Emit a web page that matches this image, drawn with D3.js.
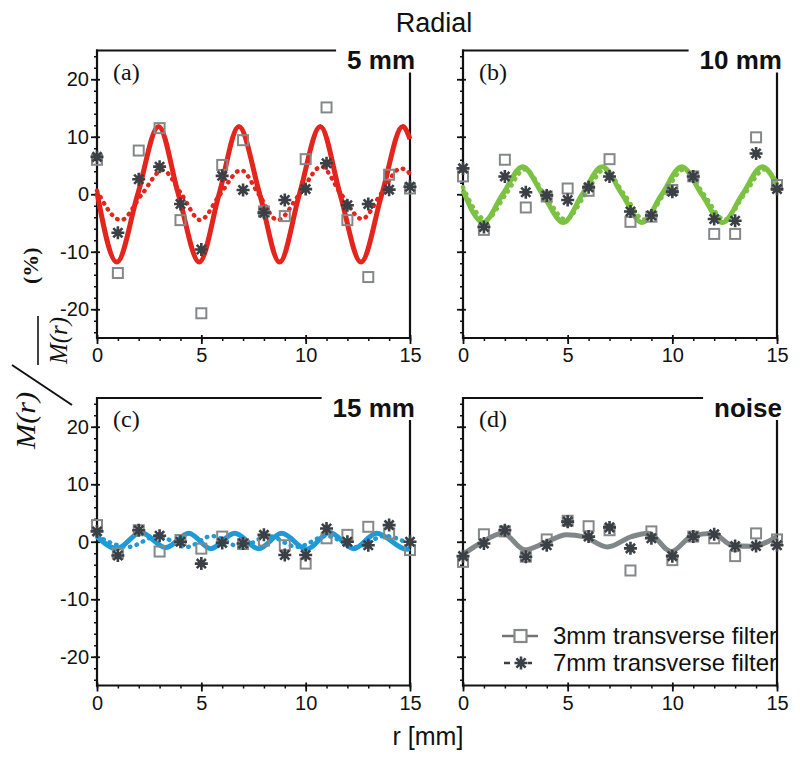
<!DOCTYPE html>
<html><head><meta charset="utf-8">
<script src="https://cdn.jsdelivr.net/npm/d3@7"></script>
<style>
body{margin:0;background:#fff;}
svg{display:block;font-family:"Liberation Sans",Arial,Helvetica,sans-serif;}
</style>
</head><body>
<svg id="chart" width="800" height="761"></svg>
<script>
// ---------------- DATA ----------------
const rValues = d3.range(0, 16);            // sample positions 0..15 mm
const xTickValues = [0, 5, 10, 15];
const yTickValues = [20, 10, 0, -10, -20];
const panelLetters = ["(a)", "(b)", "(c)", "(d)"];
const panelTitles = ["5 mm", "10 mm", "15 mm", "noise"];
const legendLabels = ["3mm transverse filter", "7mm transverse filter"];

// 3mm transverse filter (squares) and 7mm transverse filter (asterisks)
const squaresA = [6.0, -13.7, 7.6, 11.5, -4.5, -20.7, 5.1, 9.4, -3.0, -3.8, 6.1, 15.1, -4.5, -14.4, 3.4, 1.0];
const starsA   = [6.5, -6.7, 2.6, 4.8, -1.7, -9.6, 3.2, 0.75, -3.2, -1.0, 0.9, 5.4, -1.9, -1.7, 0.8, 1.3];
const squaresB = [3.1, -6.2, 6.0, -2.3, -0.4, 1.0, 0.6, 6.1, -4.8, -3.9, 0.75, 3.1, -6.9, -6.9, 9.9, 1.6];
const starsB   = [4.5, -5.7, 3.1, 0.35, -0.2, -1.0, 1.2, 3.1, -3.0, -3.7, 0.45, 3.1, -4.3, -4.6, 7.1, 0.9];
const squaresC = [2.9, -2.0, 2.0, -1.7, 0.3, -1.2, 0.9, -0.4, 0.2, -0.6, -3.8, 0.6, 1.2, 2.6, 1.45, -1.45];
const starsC   = [1.8, -2.4, 2.0, 1.05, 0.0, -3.8, -0.2, -0.3, 1.2, -2.3, -2.3, 2.3, 0.0, -0.6, 2.9, 0.0];
const squaresD = [-3.5, 1.3, 1.8, -2.6, 0.4, 3.65, 2.7, 2.0, -5.0, 1.8, -3.2, 0.9, 0.6, -2.5, 1.45, 0.4];
const starsD   = [-2.5, -0.3, 2.0, -2.6, -0.6, 3.5, 0.9, 2.5, -1.15, 0.6, -2.5, 0.9, 1.3, -0.75, -0.75, -0.6];

// fitted curves, read at extrema / zero crossings: [r, value]
const solidA = [[0,0.3],[0.95,-11.8],[1.95,0],[2.95,11.8],[3.9,0],[4.9,-11.8],[5.85,0],[6.8,11.8],[7.8,0],[8.75,-11.8],[9.7,0],[10.7,11.8],[11.65,0],[12.65,-11.8],[13.65,0],[14.65,11.8],[15,9.6]];
const dottedA = [[0,0.6],[1.15,-4.5],[2.15,0],[3.15,4.2],[4.05,0],[4.95,-4.5],[5.9,0],[6.9,4.2],[7.75,0],[8.65,-4.5],[9.7,0],[10.75,4.8],[11.7,0],[12.7,-4.3],[13.6,0],[14.55,4.5],[15,3.6]];
const solidB = [[0,0.7],[0.96,-4.9],[1.9,0],[2.85,4.8],[3.8,0],[4.8,-4.9],[5.7,0],[6.65,4.8],[7.6,0],[8.55,-4.9],[9.5,0],[10.45,4.8],[11.4,0],[12.4,-4.9],[13.35,0],[14.3,4.8],[15,1.6]];
const dottedB = [[0,1.2],[1.1,-4.4],[2.05,0],[2.95,4.3],[3.9,0],[4.9,-4.4],[5.85,0],[6.75,4.3],[7.7,0],[8.65,-4.4],[9.6,0],[10.55,4.3],[11.5,0],[12.5,-4.4],[13.45,0],[14.4,4.3],[15,2.0]];
const solidC = [[0,0.9],[0.95,-1.2],[2.1,1.6],[3.3,-1.0],[4.4,1.5],[5.45,-1.2],[6.6,1.5],[7.75,-1.2],[8.85,1.5],[10.05,-1.3],[11.15,1.6],[12.3,-1.2],[13.4,1.5],[14.85,-1.3],[15,-1.2]];
const dottedC = [[0,1.0],[1.5,-0.9],[2.9,1.0],[4.3,-0.9],[5.5,1.0],[6.9,-0.9],[8.2,1.0],[9.6,-0.9],[11.0,1.0],[12.4,-0.9],[13.8,1.0],[15,-0.5]];
const solidD = [[0,-2.2],[0.8,-0.3],[1.9,1.5],[2.95,-1.4],[3.85,-0.3],[4.95,1.2],[5.75,0.9],[6.9,-0.9],[8.05,0.9],[8.85,1.5],[9.95,-1.7],[10.9,0.9],[11.9,1.5],[12.85,-0.6],[13.8,-0.8],[15,0.9]];

// ---------------- LAYOUT ----------------
const svg = d3.select("#chart");
svg.append("rect").attr("width", 800).attr("height", 761).attr("fill", "#fff");

const panels = [
  {letter: panelLetters[0], title: panelTitles[0], color: "#e3251d", x0: 97,  x1: 410, y0: 50.5, y1: 338,   solid: solidA, dotted: dottedA, sq: squaresA, st: starsA, yLab: true},
  {letter: panelLetters[1], title: panelTitles[1], color: "#7cc242", x0: 463, x1: 777, y0: 50.5, y1: 338,   solid: solidB, dotted: dottedB, sq: squaresB, st: starsB, yLab: false},
  {letter: panelLetters[2], title: panelTitles[2], color: "#1e9ad8", x0: 97,  x1: 410, y0: 398,  y1: 685.5, solid: solidC, dotted: dottedC, sq: squaresC, st: starsC, yLab: true},
  {letter: panelLetters[3], title: panelTitles[3], color: "#7f8788", x0: 463, x1: 777, y0: 398,  y1: 685.5, solid: solidD, dotted: null,    sq: squaresD, st: starsD, yLab: false, legend: true}
];

const starPath = "M-6.5,0H6.5M0,-6.5V6.5M-4.6,-4.6L4.6,4.6M-4.6,4.6L4.6,-4.6";
const sqColor = "#858889", starColor = "#3a4046";

function drawSquare(g, cx, cy, s) {
  s = s || 10;
  g.append("rect").attr("x", cx - s / 2).attr("y", cy - s / 2).attr("width", s).attr("height", s)
    .attr("fill", "none").attr("stroke", sqColor).attr("stroke-width", 2);
}
function drawStar(g, cx, cy) {
  g.append("path").attr("d", starPath).attr("transform", `translate(${cx},${cy})`)
    .attr("stroke", starColor).attr("stroke-width", 2.6).attr("fill", "none");
  g.append("circle").attr("cx", cx).attr("cy", cy).attr("r", 2.8).attr("fill", starColor);
}

panels.forEach(p => {
  const x = d3.scaleLinear().domain([0, 15]).range([p.x0, p.x1]);
  const y = d3.scaleLinear().domain([-25, 25]).range([p.y1, p.y0]);
  const g = svg.append("g");

  // minor ticks
  g.append("g").attr("transform", `translate(0,${p.y1})`)
    .call(d3.axisBottom(x).tickValues(rValues).tickSize(3).tickFormat(""))
    .call(a => a.select(".domain").remove())
    .call(a => a.selectAll("line").attr("stroke", "#111").attr("stroke-width", 1.5));
  g.append("g").attr("transform", `translate(${p.x0},0)`)
    .call(d3.axisLeft(y).tickValues(d3.range(-24, 25, 2)).tickSize(3).tickFormat(""))
    .call(a => a.select(".domain").remove())
    .call(a => a.selectAll("line").attr("stroke", "#111").attr("stroke-width", 1.5));

  // major ticks + labels
  const xa = g.append("g").attr("transform", `translate(0,${p.y1})`)
    .call(d3.axisBottom(x).tickValues(xTickValues).tickSize(6).tickPadding(4).tickFormat(d => String(d)));
  xa.select(".domain").remove();
  xa.selectAll("line").attr("stroke", "#111").attr("stroke-width", 1.8).attr("y1", -3);
  xa.selectAll("text").attr("font-size", 20).attr("fill", "#111")
    .attr("font-family", "Liberation Sans, Arial, sans-serif");

  const ya = g.append("g").attr("transform", `translate(${p.x0},0)`)
    .call(d3.axisLeft(y).tickValues(yTickValues).tickSize(6).tickPadding(2)
      .tickFormat(d => p.yLab ? String(d) : ""));
  ya.select(".domain").remove();
  ya.selectAll("line").attr("stroke", "#111").attr("stroke-width", 1.8).attr("x1", 3);
  ya.selectAll("text").attr("font-size", 20).attr("fill", "#111")
    .attr("font-family", "Liberation Sans, Arial, sans-serif");

  // title
  const t = g.append("text").attr("x", p.x1 + 5).attr("y", p.y0 + 18.5)
    .attr("text-anchor", "end").attr("font-size", 26).attr("font-weight", "bold")
    .attr("fill", "#111").text(p.title);
  const tw = t.node().getComputedTextLength();
  const textStart = p.x1 + 5 - tw;

  // frame lines
  g.append("line").attr("x1", p.x0).attr("x2", p.x0).attr("y1", p.y0 - 1).attr("y2", p.y1 + 1)
    .attr("stroke", "#111").attr("stroke-width", 2.2);
  g.append("line").attr("x1", p.x0 - 1).attr("x2", p.x1 + 1).attr("y1", p.y1).attr("y2", p.y1)
    .attr("stroke", "#111").attr("stroke-width", 2.2);
  g.append("line").attr("x1", p.x0 - 1).attr("x2", textStart - 11).attr("y1", p.y0).attr("y2", p.y0)
    .attr("stroke", "#111").attr("stroke-width", 2);
  g.append("line").attr("x1", p.x1).attr("x2", p.x1).attr("y1", p.y0 + 22).attr("y2", p.y1 + 1)
    .attr("stroke", "#111").attr("stroke-width", 2.2);

  // panel letter
  g.append("text").attr("x", p.x0 + 16).attr("y", p.y0 + 29)
    .attr("font-family", "Liberation Serif, Times New Roman, serif").attr("font-size", 24)
    .attr("fill", "#111").text(p.letter);

  // curves
  const line = d3.line().x(d => x(d[0])).y(d => y(d[1])).curve(d3.curveMonotoneX);
  if (p.dotted) {
    g.append("path").attr("d", line(p.dotted)).attr("fill", "none")
      .attr("stroke", p.color).attr("stroke-width", 4.4)
      .attr("stroke-dasharray", "0.5 6.5").attr("stroke-linecap", "round");
  }
  g.append("path").attr("d", line(p.solid)).attr("fill", "none")
    .attr("stroke", p.color).attr("stroke-width", 5).attr("stroke-linejoin", "round");

  // markers
  rValues.forEach((r, i) => drawSquare(g, x(r), y(p.sq[i])));
  rValues.forEach((r, i) => drawStar(g, x(r), y(p.st[i])));

  // legend
  if (p.legend) {
    const lg = g.append("g");
    const rows = [p.y0 + 238, p.y0 + 265];
    lg.append("line").attr("x1", p.x0 + 39).attr("x2", p.x0 + 75).attr("y1", rows[0]).attr("y2", rows[0])
      .attr("stroke", "#6f7476").attr("stroke-width", 2.5);
    lg.append("rect").attr("x", p.x0 + 51.5).attr("y", rows[0] - 6).attr("width", 12).attr("height", 12)
      .attr("fill", "#fff").attr("stroke", sqColor).attr("stroke-width", 2.2);
    lg.append("line").attr("x1", p.x0 + 41).attr("x2", p.x0 + 74).attr("y1", rows[1]).attr("y2", rows[1])
      .attr("stroke", "#3a4046").attr("stroke-width", 2.5).attr("stroke-dasharray", "6 5");
    lg.append("rect").attr("x", p.x0 + 51).attr("y", rows[1] - 7).attr("width", 14).attr("height", 14).attr("fill", "#fff");
    drawStar(lg, p.x0 + 58, rows[1]);
    legendLabels.forEach((lab, i) => {
      lg.append("text").attr("x", p.x0 + 90).attr("y", rows[i] + 8)
        .attr("font-size", 24).attr("fill", "#111").text(lab);
    });
  }
});

// overall title
svg.append("text").attr("x", 434).attr("y", 32).attr("text-anchor", "middle")
  .attr("font-size", 27).attr("fill", "#111").text("Radial");

// x axis label
svg.append("text").attr("x", 428).attr("y", 745).attr("text-anchor", "middle")
  .attr("font-size", 25).attr("fill", "#111").text("r [mm]");

// y axis label (rotated fraction)
const yl = svg.append("g").attr("transform", "rotate(-90)")
  .attr("font-family", "Liberation Serif, Times New Roman, serif").attr("fill", "#111");
yl.append("text").attr("x", -449).attr("y", 35).attr("font-size", 28).attr("font-style", "italic")
  .attr("textLength", 57).attr("lengthAdjust", "spacingAndGlyphs").text("M(r)");
yl.append("line").attr("x1", -405).attr("y1", 72).attr("x2", -365).attr("y2", 12)
  .attr("stroke", "#111").attr("stroke-width", 2);
yl.append("line").attr("x1", -365).attr("y1", 38).attr("x2", -316).attr("y2", 38)
  .attr("stroke", "#111").attr("stroke-width", 1.6);
yl.append("text").attr("x", -364).attr("y", 67).attr("font-size", 26).attr("font-style", "italic")
  .attr("textLength", 47).attr("lengthAdjust", "spacingAndGlyphs").text("M(r)");
yl.append("text").attr("x", -284).attr("y", 38).attr("font-size", 22).attr("font-weight", "bold")
  .text("(%)");
</script>
</body></html>
